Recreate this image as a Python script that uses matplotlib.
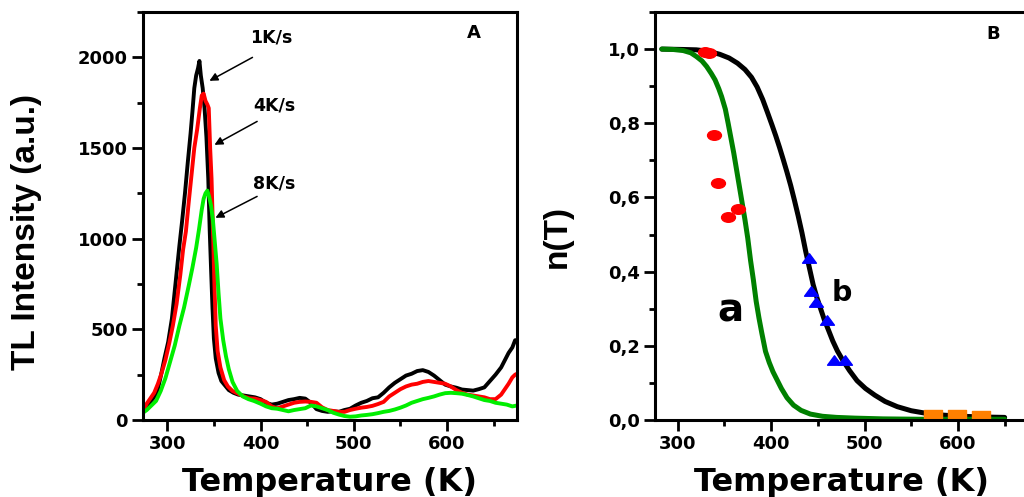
import numpy as np
import matplotlib
matplotlib.use("Agg")
import matplotlib.pyplot as plt
from matplotlib.path import Path
from matplotlib.ticker import MultipleLocator

# ---- panel A: TL glow curves ----
T_1K = [274, 280, 285, 289, 293, 297, 301, 305, 309, 313, 316, 319, 322, 325, 327, 329, 331, 333,
        334.5, 336, 338, 340, 342, 344, 345.5, 347, 348.5, 350, 352, 355, 358, 362, 366, 371, 376,
        382, 388, 394, 400, 406, 412, 418, 424, 430, 436, 442, 448, 454, 460, 466, 472, 478, 484,
        490, 496, 502, 508, 514, 520, 526, 532, 538, 544, 550, 556, 562, 568, 574, 580, 586, 592,
        598, 604, 610, 616, 622, 628, 634, 640, 646, 652, 658, 662, 666, 670, 673, 675]
I_1K = [60, 90, 120, 150, 240, 340, 430, 560, 760, 960, 1100, 1250, 1420, 1580, 1700, 1830, 1900, 1940,
        1980, 1900, 1830, 1720, 1560, 1330, 1050, 830, 620, 450, 340, 260, 215, 190, 165, 150, 140,
        135, 130, 125, 115, 95, 85, 90, 100, 110, 115, 122, 118, 95, 60, 50, 45, 48, 45,
        55, 62, 80, 95, 105, 120, 125, 150, 180, 205, 225, 245, 255, 270, 275, 265, 245, 220,
        195, 185, 178, 168, 165, 162, 170, 180, 215, 250, 290, 330, 370, 400, 440, 440]

T_4K = [274, 278, 282, 286, 290, 294, 298, 302, 306, 310, 314, 317, 320, 323, 326, 329, 332, 335,
        337, 339, 341, 343, 344.5, 346, 347.5, 349, 350.5, 352, 354, 357, 361, 365, 370, 376, 382,
        388, 394, 400, 406, 412, 418, 424, 430, 436, 442, 448, 454, 460, 466, 472, 478, 484, 490,
        496, 502, 508, 514, 520, 526, 532, 538, 544, 550, 556, 562, 568, 574, 580, 586, 592, 598,
        604, 610, 616, 622, 628, 634, 640, 646, 652, 658, 662, 666, 670, 673, 675]
I_4K = [50, 90, 120, 150, 200, 260, 330, 420, 520, 640, 800, 940, 1040, 1200, 1350, 1500, 1600, 1720,
        1790, 1800, 1760, 1740, 1720, 1500, 1330, 1050, 760, 520, 380, 290, 220, 185, 160, 145, 130,
        120, 118, 110, 100, 75, 65, 75, 85, 95, 100, 102, 100, 95, 70, 55, 50, 45, 45,
        55, 62, 68, 72, 78, 88, 100, 130, 150, 170, 185, 195, 200, 210, 215, 210, 205, 200,
        185, 165, 150, 140, 135, 130, 125, 115, 115, 140, 170, 200, 235, 250, 255]

T_8K = [274, 278, 283, 288, 293, 298, 303, 308, 313, 318, 323, 327, 331, 334, 337, 339, 341, 343,
        345, 347, 349, 351, 353, 355, 357, 360, 363, 366, 370, 375, 381, 387, 393, 400, 406, 412,
        418, 424, 430, 436, 442, 448, 454, 460, 466, 472, 478, 484, 490, 496, 502, 508, 514, 520,
        526, 532, 538, 544, 550, 556, 562, 568, 574, 580, 586, 592, 598, 604, 610, 616, 622, 628,
        634, 640, 646, 652, 658, 664, 670, 675]
I_8K = [40, 55, 80, 105, 160, 230, 320, 410, 520, 620, 740, 840, 950, 1050, 1160, 1220, 1250, 1265,
        1230, 1180, 1100, 980, 860, 700, 560, 440, 350, 280, 210, 160, 130, 115, 105, 90, 75, 65,
        62, 55, 48, 55, 60, 65, 80, 75, 65, 55, 40, 30, 22, 18, 20, 25, 28, 32,
        38, 45, 50, 58, 68, 80, 95, 105, 115, 122, 130, 140, 148, 150, 148, 145, 138, 130,
        120, 110, 105, 95, 90, 85, 75, 80]

rate_labels = ["1K/s", "4K/s", "8K/s"]

# ---- panel B: n(T) ----
Ta = [283, 295, 306, 314, 320, 326, 331, 336, 340, 344, 347, 351, 354, 357, 360, 363, 366, 369,
      372, 375, 378, 381, 384, 387, 390, 394, 398, 402, 406, 411, 417, 424, 432, 442, 455, 470,
      490, 520, 560, 600, 650]
na = [1.0, 0.999, 0.996, 0.99, 0.98, 0.968, 0.953, 0.934, 0.917, 0.893, 0.872, 0.838, 0.80, 0.76,
      0.72, 0.675, 0.63, 0.585, 0.54, 0.49, 0.43, 0.378, 0.32, 0.275, 0.235, 0.185, 0.155, 0.13,
      0.11, 0.085, 0.06, 0.04, 0.026, 0.016, 0.010, 0.007, 0.005, 0.003, 0.002, 0.002, 0.002]

Tb = [283, 305, 320, 333, 345, 355, 364, 372, 379, 385, 391, 396, 401, 405, 409, 413, 417, 421,
      425, 429, 433, 437, 441, 445, 449, 453, 457, 461, 466, 471, 477, 484, 492, 501, 511, 522,
      535, 550, 566, 585, 605, 628, 650]
nb = [1.0, 0.999, 0.998, 0.994, 0.986, 0.976, 0.962, 0.945, 0.924, 0.898, 0.864, 0.83, 0.795,
      0.766, 0.735, 0.702, 0.668, 0.632, 0.592, 0.55, 0.505, 0.455, 0.41, 0.365, 0.33, 0.30, 0.27,
      0.245, 0.213, 0.186, 0.16, 0.133, 0.106, 0.085, 0.067, 0.05, 0.036, 0.025, 0.018, 0.013,
      0.01, 0.008, 0.007]

T_red = [329.5, 333.5, 339.3, 343.6, 354.3, 364.2]
n_red = [0.993, 0.99, 0.768, 0.639, 0.546, 0.569]
T_blue = [440.3, 443.0, 448.4, 459.8, 467.0, 479.4]
n_blue = [0.436, 0.349, 0.319, 0.270, 0.162, 0.162]
T_orange = [573.7, 599.3, 624.4]
n_orange = [0.017, 0.0157, 0.013]

yticksB = [0.0, 0.2, 0.4, 0.6, 0.8, 1.0]
yticklabelsB = ["0,0", "0,2", "0,4", "0,6", "0,8", "1,0"]

plt.rcParams['font.family'] = 'DejaVu Sans'
plt.rcParams['font.weight'] = 'bold'

fig = plt.figure(figsize=(10.24, 4.97), dpi=100)
axA = fig.add_axes([143/1024, 1-420/497, 374/1024, 408/497])
axB = fig.add_axes([655/1024, 1-420/497, 373/1024, 408/497])

lab_font = ['Liberation Sans Narrow', 'Liberation Sans', 'DejaVu Sans']

for ax in (axA, axB):
    for s in ax.spines.values():
        s.set_linewidth(2.2)
    ax.tick_params(which='both', direction='out', width=2, labelsize=13, pad=3)
    ax.tick_params(which='major', length=8)
    ax.tick_params(which='minor', length=4.5)
    ax.xaxis.set_major_locator(MultipleLocator(100))
    ax.xaxis.set_minor_locator(MultipleLocator(50))

# panel A
axA.plot(T_1K, I_1K, color='black', lw=2.8)
axA.plot(T_4K, I_4K, color='#ff0000', lw=2.8)
axA.plot(T_8K, I_8K, color='#00ee00', lw=2.8)
axA.set_xlim(274, 675)
axA.set_ylim(0, 2250)
axA.yaxis.set_major_locator(MultipleLocator(500))
axA.yaxis.set_minor_locator(MultipleLocator(250))

txt_pos = [(412, 2111), (415, 1736), (415, 1306)]
arr_start = [(394, 2007), (399, 1654), (399, 1240)]
arr_end = [(342.6, 1863), (348, 1510), (349, 1108)]
for lab, tp, a0, a1 in zip(rate_labels, txt_pos, arr_start, arr_end):
    axA.text(tp[0], tp[1], lab, ha='center', va='center', fontsize=12.5, fontweight='bold')
    axA.annotate('', xy=a1, xytext=a0,
                 arrowprops=dict(arrowstyle='-|>', color='black', lw=1.1, mutation_scale=12))
axA.text(628.8, 2133, 'A', ha='center', va='center', fontsize=13, fontweight='bold')

# panel B
circ = Path.unit_circle()
ellipse = Path(circ.vertices * np.array([1.45, 1.0]), circ.codes)
tri = Path([(0, 0.34), (-0.5, -0.34), (0.5, -0.34), (0, 0.34)],
           [Path.MOVETO, Path.LINETO, Path.LINETO, Path.CLOSEPOLY])
rect = Path([(-0.5, -0.19), (0.5, -0.19), (0.5, 0.19), (-0.5, 0.19), (-0.5, -0.19)],
            [Path.MOVETO, Path.LINETO, Path.LINETO, Path.LINETO, Path.CLOSEPOLY])

axB.plot(Tb, nb, color='black', lw=3.6, solid_capstyle='round')
axB.plot(Ta, na, color='#008000', lw=3.6, solid_capstyle='round')
axB.plot(T_red, n_red, ls='none', marker=ellipse, ms=10, mfc='#ff0000', mec='#ff0000')
axB.plot(T_blue, n_blue, ls='none', marker=tri, ms=10, mfc='#0000ff', mec='#0000ff')
axB.plot(T_orange, n_orange, ls='none', marker=rect, ms=13.5, mfc='#ff8000', mec='#ff8000')
axB.set_xlim(275.7, 675)
axB.set_ylim(0, 1.1)
axB.set_yticks(yticksB)
axB.set_yticklabels(yticklabelsB)
axB.yaxis.set_minor_locator(MultipleLocator(0.1))
axB.spines['right'].set_visible(False)
axB.text(356.3, 0.294, 'a', ha='center', va='center', fontsize=28, fontweight='bold')
axB.text(476, 0.343, 'b', ha='center', va='center', fontsize=20.5, fontweight='bold')
axB.text(637.6, 1.041, 'B', ha='center', va='center', fontsize=13, fontweight='bold')

# axis labels
fig.text(330/1024, 1-483/497, 'Temperature (K)', ha='center', va='center', fontsize=23, fontweight='bold')
fig.text(842/1024, 1-483/497, 'Temperature (K)', ha='center', va='center', fontsize=23, fontweight='bold')
fig.text(27/1024, 1-232/497, 'TL Intensity (a.u.)', ha='center', va='center', rotation=90,
         fontsize=24, fontweight='bold', family=lab_font)
fig.text(557/1024, 1-237/497, 'n(T)', ha='center', va='center', rotation=90,
         fontsize=24, fontweight='bold', family=lab_font)

fig.savefig('out.png', dpi=100)
